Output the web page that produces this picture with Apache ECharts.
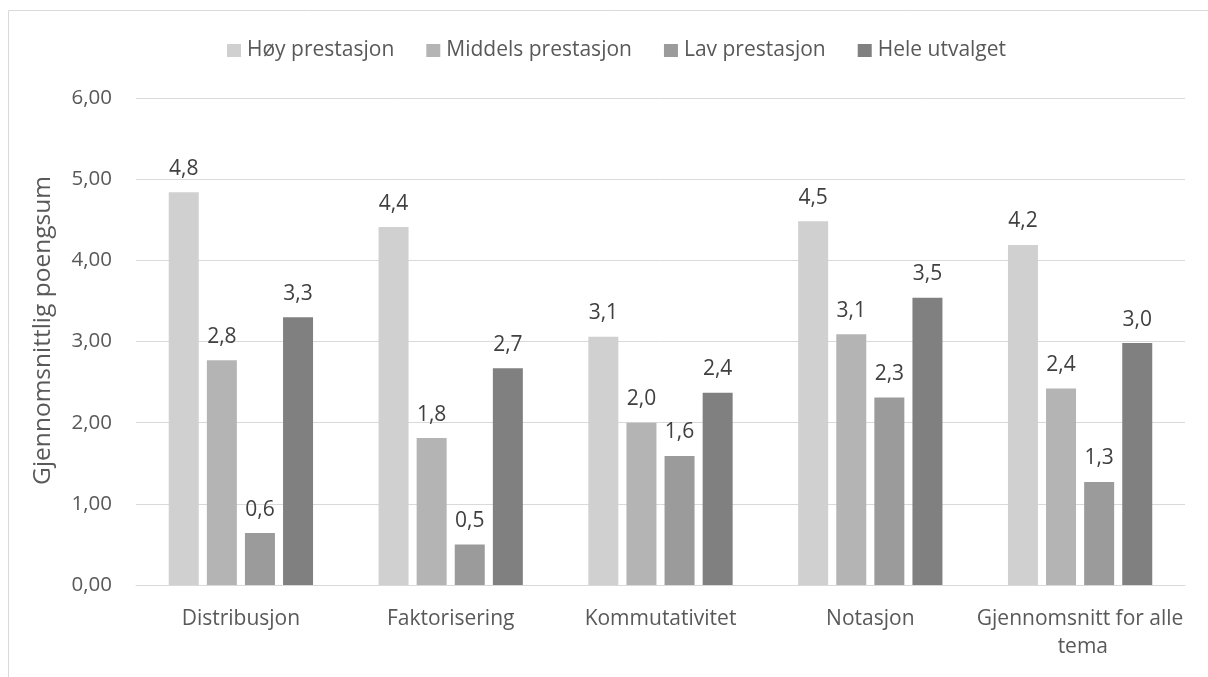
<!DOCTYPE html>
<html>
<head>
<meta charset="utf-8">
<script src="https://cdn.jsdelivr.net/npm/echarts@6/dist/echarts.min.js"></script>
<style>
html,body{margin:0;padding:0;background:#fff;}
#c{width:1208px;height:677px;}
</style>
</head>
<body>
<div id="c"></div>
<script>
const categories = ['Distribusjon', 'Faktorisering', 'Kommutativitet', 'Notasjon', 'Gjennomsnitt for alle tema'];
const seriesNames = ['Høy prestasjon', 'Middels prestasjon', 'Lav prestasjon', 'Hele utvalget'];
const hoy = [4.84, 4.41, 3.06, 4.48, 4.19];
const middels = [2.77, 1.81, 2.00, 3.09, 2.42];
const lav = [0.64, 0.50, 1.59, 2.31, 1.27];
const hele = [3.30, 2.67, 2.37, 3.54, 2.98];
const yTicks = [0, 1, 2, 3, 4, 5, 6];
const colors = ['#d0d0d0', '#b4b4b4', '#9b9b9b', '#808080'];

const FONT = 'Open Sans';
const values = [hoy, middels, lav, hele];
const chart = echarts.init(document.getElementById('c'));
chart.setOption({
  animation: false,
  textStyle: { fontFamily: FONT },
  graphic: [{
    type: 'rect',
    shape: { x: 8.5, y: 10.5, width: 1300, height: 800 },
    style: { fill: 'none', stroke: '#d9d9d9', lineWidth: 1 },
    silent: true
  }],
  legend: {
    top: 35,
    left: 222,
    itemWidth: 14,
    itemHeight: 13,
    itemGap: 32,
    icon: 'rect',
    textStyle: { fontFamily: FONT, fontSize: 21, color: '#595959', padding: [0, 0, 0, 1] },
    data: seriesNames
  },
  grid: { left: 136, right: 23, top: 98, bottom: 92, containLabel: false },
  xAxis: {
    type: 'category',
    data: categories,
    axisLine: { lineStyle: { color: '#d9d9d9', width: 1 } },
    axisTick: { show: false },
    axisLabel: {
      fontFamily: FONT, fontSize: 21, color: '#595959', margin: 20,
      width: 212, overflow: 'break', lineHeight: 28, interval: 0
    }
  },
  yAxis: {
    type: 'value',
    min: yTicks[0],
    max: yTicks[yTicks.length - 1],
    interval: 1,
    name: 'Gjennomsnittlig poengsum',
    nameLocation: 'middle',
    nameGap: 80,
    nameTextStyle: { fontFamily: FONT, fontSize: 24.5, color: '#595959', padding: [0, 0, 0, 22] },
    axisLine: { show: false },
    axisTick: { show: false },
    splitLine: { lineStyle: { color: '#d9d9d9', width: 1 } },
    axisLabel: {
      fontFamily: FONT, fontSize: 20.5, color: '#595959', margin: 24,
      formatter: v => v.toFixed(2).replace('.', ',')
    }
  },
  series: seriesNames.map((name, i) => ({
    name: name,
    type: 'bar',
    data: values[i],
    barWidth: 30,
    barGap: '27%',
    itemStyle: { color: colors[i] },
    label: {
      show: true,
      position: 'top',
      distance: 13,
      fontFamily: FONT,
      fontSize: 21,
      color: '#404040',
      formatter: p => p.value.toFixed(1).replace('.', ',')
    }
  }))
});
</script>
</body>
</html>
